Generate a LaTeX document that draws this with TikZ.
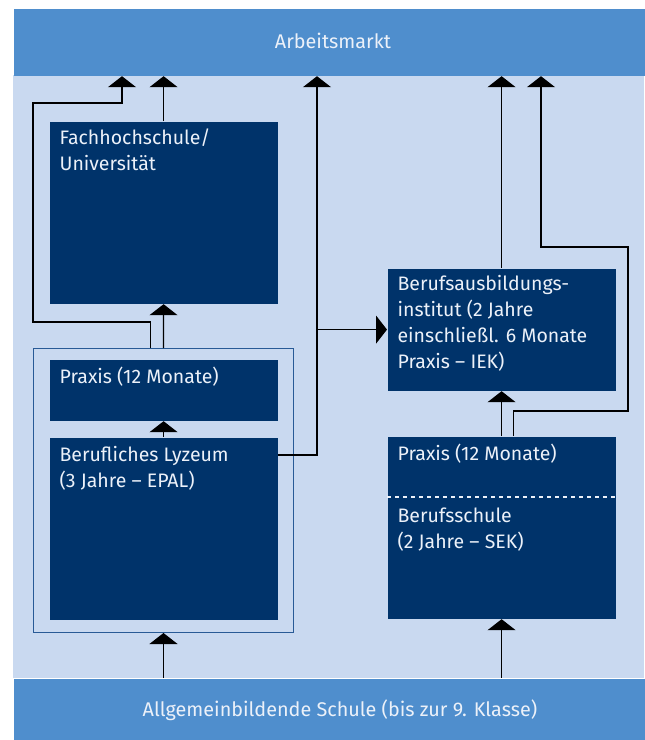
\documentclass[tikz,border=0pt]{standalone}
\usepackage{fontspec}
\setmainfont{Fira Sans}
\usepackage{tikz}
\usetikzlibrary{positioning}
\usetikzlibrary{arrows.meta}
\usetikzlibrary{calc}
\definecolor{bandblue}{RGB}{79,142,205}
\definecolor{paleblue}{RGB}{201,217,240}
\definecolor{darkblue}{RGB}{0,51,106}
\definecolor{frameblue}{RGB}{40,90,150}
\definecolor{boxtext}{RGB}{236,241,249}
\tikzset{band node/.style={fill=bandblue,anchor=north west,minimum width=315.5pt,inner sep=0pt},
	school node/.style={fill=darkblue,anchor=north west,minimum width=114pt,inner sep=0pt},
	label node/.style={anchor=north west,align=left,text=boxtext,inner xsep=5pt,inner ysep=3.5pt,font=\fontsize{9.75}{13}\selectfont},
	band text/.style={anchor=base,text=boxtext,inner sep=0pt,font=\fontsize{9.9}{13}\selectfont},}

\begin{document}
\begin{tikzpicture}[x=0.5pt, y=-0.5pt, ->, >={Triangle[width=14pt,length=5.5pt]}, line width=0.6pt]
		\useasboundingbox (0,0) rectangle (644,740);
		\fill[paleblue] (13,75) rectangle (644,678);
		\node[band node, minimum height=33.5pt] (markt) at (13,8) {};
		\node[band node, minimum height=31pt] (schule) at (13,678) {};
		\node[band text] (markttxt) at (333,48) {Arbeitsmarkt};
		\node[band text] (schuletxt) at (340,716) {Allgemeinbildende Schule (bis zur 9. Klasse)};
		
		% linke Seite
		\node[school node, minimum height=91pt] (fh) at (49,121) {};
		\node[draw=frameblue, line width=0.5pt, anchor=north west, minimum width=130pt, minimum height=142pt, inner sep=0pt] (frame) at (33,348) {};
		\node[school node, minimum height=30.5pt] (praxis) at (49,359) {};
		\node[school node, minimum height=91pt] (lyz) at (49,437) {};
		
		% rechte Seite
		\node[school node, minimum height=61pt] (inst) at (387,268) {};
		\node[school node, minimum height=91pt] (bs) at (387,436) {};
		
		\node[label node] (fhtxt) at (fh.north west) {Fachhochschule/\\Universität};
		\node[label node] (praxistxt) at (praxis.north west) {Praxis (12 Monate)};
		\node[label node] (lyztxt) at ($(lyz.north west)+(0,2)$) {Berufliches Lyzeum\\(3 Jahre – EPAL)};
		\node[label node] (insttxt) at (inst.north west) {Berufsausbildungs-\\institut (2 Jahre\\einschließl. 6 Monate\\Praxis – IEK)};
		\node[label node] (bspraxistxt) at (bs.north west) {Praxis (12 Monate)};
		\node[label node] (bstxt) at ($(bs.north west)+(0,64)$) {Berufsschule\\(2 Jahre – SEK)};
		\draw[-, boxtext, line width=1.3pt, dash pattern=on 2pt off 2pt] ($(bs.north west)+(0,61)$) -- ($(bs.north east)+(0,61)$);
		
		\coordinate (knee) at (317,455);
		
		\path
		(schule.north -| frame.south) edge (frame.south)
		(schule.north -| bs.south) edge (bs.south)
		(lyz.north) edge (praxis.south)
		(frame.north) edge (fh.south)
		(fh.north) edge (fh.north |- markt.south)
		(bs.north) edge (inst.south)
		(inst.north) edge (inst.north |- markt.south)
		(knee |- inst.west) edge (inst.west);
		
		\draw ($(lyz.north east)+(0,18)$) -- (knee) -- (knee |- markt.south);
		\draw[-, line width=1.3pt] (317,273) -- (317,313);
		\draw ($(frame.north)+(-13,0)$) -- ++(0,-26) -| (33,103) -| ($(markt.south west)+(109,0)$);
		\draw ($(bs.north)+(12,0)$) -- ++(0,-25) -| (628,247) -| ($(markt.south west)+(528,0)$);
	\end{tikzpicture}
\end{document}
